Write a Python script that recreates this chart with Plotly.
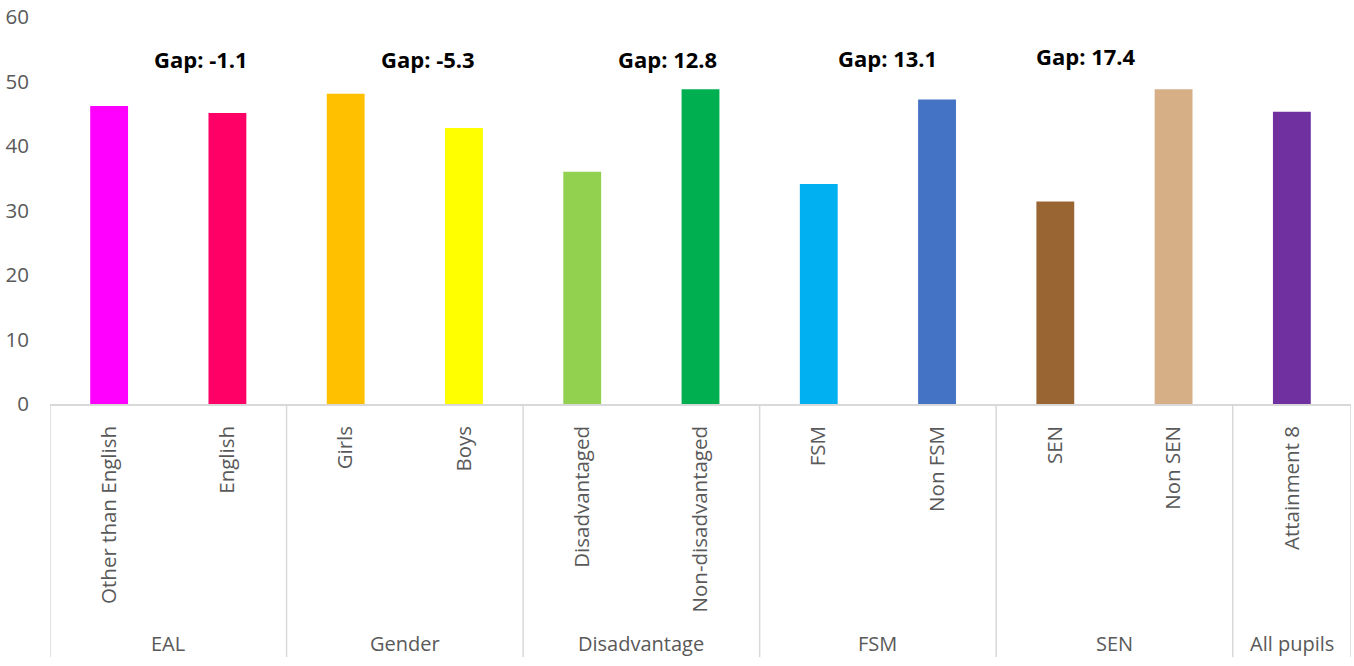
import plotly.graph_objects as go

# Attainment 8 scores by pupil characteristic
categories = ["Other than English", "English", "Girls", "Boys", "Disadvantaged",
              "Non-disadvantaged", "FSM", "Non FSM", "SEN", "Non SEN", "Attainment 8"]
values = [46.2, 45.1, 48.1, 42.8, 36.0, 48.8, 34.1, 47.2, 31.4, 48.8, 45.3]
colors = ["#FF00FF", "#FF0066", "#FFC000", "#FFFF00", "#92D050", "#00B050",
          "#00B0F0", "#4472C4", "#996633", "#D6AF87", "#7030A0"]

# Group labels and the number of bars in each group
groups = ["EAL", "Gender", "Disadvantage", "FSM", "SEN", "All pupils"]
group_sizes = [2, 2, 2, 2, 2, 1]

# Gap annotations (position along the category axis, text)
gap_labels = ["Gap: -1.1", "Gap: -5.3", "Gap: 12.8", "Gap: 13.1", "Gap: 17.4"]
gap_x = [0.78, 2.7, 4.72, 6.58, 8.26]
gap_y = [53.5, 53.5, 53.5, 53.7, 53.9]

FONT = "Open Sans"
GREY = "#595959"
LINE = "#D9D9D9"

fig = go.Figure(go.Bar(
    x=categories, y=values, marker=dict(color=colors, line=dict(width=0)),
    width=0.32, hoverinfo="x+y",
))

shapes = []
annotations = []
start = 0
edges = [-0.5]
for g, n in zip(groups, group_sizes):
    centre = start + (n - 1) / 2
    annotations.append(dict(x=centre, y=-0.618, xref="x", yref="paper", text=g,
                            showarrow=False, yanchor="middle",
                            font=dict(family=FONT, size=20, color=GREY)))
    start += n
    edges.append(start - 0.5)

for e in edges:
    shapes.append(dict(type="line", xref="x", yref="paper", x0=e, x1=e, y0=0, y1=-0.654,
                       line=dict(color=LINE, width=1.5)))

for t, gx, gy in zip(gap_labels, gap_x, gap_y):
    annotations.append(dict(x=gx, y=gy, xref="x", yref="y", text=f"<b>{t}</b>",
                            showarrow=False, font=dict(family=FONT, size=22, color="#000000")))

fig.update_layout(
    width=1354, height=666,
    margin=dict(l=50, r=3, t=17, b=262),
    paper_bgcolor="white", plot_bgcolor="white",
    showlegend=False,
    font=dict(family=FONT, color=GREY),
    shapes=shapes, annotations=annotations,
    xaxis=dict(type="category", tickangle=-90, showgrid=False, showline=True,
               linecolor=LINE, linewidth=1.5, ticks="", ticklabelstandoff=12,
               tickfont=dict(family=FONT, size=20.5, color=GREY), range=[-0.5, 10.5]),
    yaxis=dict(range=[0, 60], dtick=10, showgrid=False, zeroline=False, showline=False,
               ticks="", ticklabelstandoff=20,
               tickfont=dict(family=FONT, size=20.5, color=GREY)),
)

fig.write_html("out.html")
